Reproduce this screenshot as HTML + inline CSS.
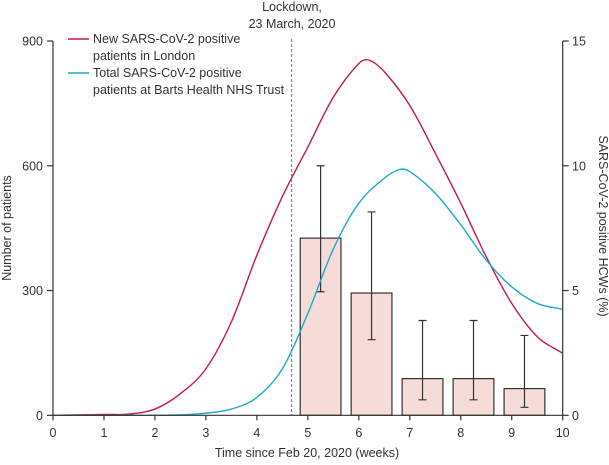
<!DOCTYPE html>
<html><head><meta charset="utf-8"><style>
body{margin:0;background:#fff}
svg text{font-family:"Liberation Sans",sans-serif;fill:#333;font-size:12.5px}
</style></head><body>
<svg width="609" height="460">
<g id="g"></g>
<text x="307" y="457" text-anchor="middle">Time since Feb 20, 2020 (weeks)</text>
<text transform="translate(11,228) rotate(-90)" text-anchor="middle">Number of patients</text>
<text transform="translate(599,226) rotate(90)" text-anchor="middle">SARS-CoV-2 positive HCWs (%)</text>
<text x="292" y="11" text-anchor="middle">Lockdown,</text>
<text x="292" y="28" text-anchor="middle">23 March, 2020</text>
<g>
<line x1="68" x2="89" y1="39" y2="39" stroke="#c8174e" stroke-width="1.4"/>
<text x="93" y="43">New SARS-CoV-2 positive</text>
<text x="93" y="60">patients in London</text>
<line x1="68" x2="89" y1="73" y2="73" stroke="#1ea8cc" stroke-width="1.4"/>
<text x="93" y="77">Total SARS-CoV-2 positive</text>
<text x="93" y="94">patients at Barts Health NHS Trust</text>
</g>
</svg>
<script>
const weeks=[0,0.5,1,1.5,2,2.5,3,3.5,4,4.5,5,5.5,6,6.2,6.5,7,7.5,8,8.5,9,9.5,10];
const londonNew=[0,1,2,3,15,52,112,225,385,526,645,765,846,854,826,745,630,510,381,269,189,149];
const bartsWeeks=[0,0.5,1,1.5,2,2.5,3,3.5,4,4.5,5,5.5,6,6.5,6.8,7,7.5,8,8.5,9,9.5,10];
const bartsTotal=[0,0,0,0,0,1,5,15,43,112,245,400,510,570,591,586,534,458,373,309,269,255];
const barWeeks=[5.25,6.25,7.25,8.25,9.25];
const hcwPct=[7.1,4.9,1.47,1.47,1.07];
const errLow=[4.95,3.03,0.62,0.62,0.32];
const errHigh=[10,8.15,3.8,3.8,3.2];
const xTicks=[0,1,2,3,4,5,6,7,8,9,10];
const yTicks=[0,300,600,900];
const y2Ticks=[0,5,10,15];
const lockdownWeek=4.68;

const X0=53,X1=562.7,Y0=415.3,Y1=41;
const x=w=>X0+(X1-X0)*w/10;
const y=v=>Y0-(Y0-Y1)*v/900;
const y2=p=>Y0-(Y0-Y1)*p/15;
const g=document.getElementById('g');
const NS='http://www.w3.org/2000/svg';
function mk(t,a,txt){const e=document.createElementNS(NS,t);for(const k in a)e.setAttribute(k,a[k]);if(txt!=null)e.textContent=txt;g.appendChild(e);return e;}

barWeeks.forEach((w,i)=>{
 const b=mk('rect',{x:x(w-0.4),y:y2(hcwPct[i]),width:x(0.8)-x(0),height:Y0-y2(hcwPct[i]),fill:'#f5dcd9',stroke:'#333','stroke-width':1.2});
 
 
 const c=x(w);
 const e=mk('path',{d:`M${c},${y2(errLow[i])}V${y2(errHigh[i])}M${c-4},${y2(errLow[i])}H${c+4}M${c-4},${y2(errHigh[i])}H${c+4}`,stroke:'#333','stroke-width':1.2,fill:'none'});
 
 
});
function smooth(xs,vs){
 const p=xs.map((w,i)=>[x(w),y(vs[i])]);
 const n=p.length;
 const m=p.map((q,i)=>{
  const a=p[Math.max(i-1,0)],c=p[Math.min(i+1,n-1)];
  return (c[1]-a[1])/(c[0]-a[0]);
 });
 let d=`M${p[0][0]},${p[0][1]}`;
 for(let i=0;i<n-1;i++){
  const b=p[i],c=p[i+1],dx=(c[0]-b[0])/3;
  d+=`C${b[0]+dx},${b[1]+m[i]*dx} ${c[0]-dx},${c[1]-m[i+1]*dx} ${c[0]},${c[1]}`;
 }
 return d;
}
let l=mk('path',{d:smooth(weeks,londonNew),stroke:'#c8174e',fill:'none','stroke-width':1.4});


l=mk('path',{d:smooth(bartsWeeks,bartsTotal),stroke:'#1ea8cc',fill:'none','stroke-width':1.4});


l=mk('line',{x1:x(lockdownWeek),x2:x(lockdownWeek),y1:Y1-2,y2:Y0,stroke:'#789','stroke-width':1.2,'stroke-dasharray':'3,2'});


l=mk('path',{d:`M${X0},${Y1}V${Y0}H${X1}V${Y1}`,stroke:'#333',fill:'none','stroke-width':1.2});


xTicks.forEach(t=>{
 mk('line',{x1:x(t),x2:x(t),y1:Y0,y2:Y0+5,stroke:'#333','stroke-width':1.2});
 const e=mk('text',{x:x(t),y:437,'text-anchor':'middle'},t);
 
 
});
yTicks.forEach(t=>{
 mk('line',{x1:X0-6,x2:X0,y1:y(t),y2:y(t),stroke:'#333','stroke-width':1.2});
 const e=mk('text',{x:43,y:y(t)+4.5,'text-anchor':'end'},t);
 
 
});
y2Ticks.forEach(t=>{
 mk('line',{x1:X1,x2:X1+6,y1:y2(t),y2:y2(t),stroke:'#333','stroke-width':1.2});
 const e=mk('text',{x:572,y:y2(t)+4.5},t);
 
 
});
</script>
</body></html>
